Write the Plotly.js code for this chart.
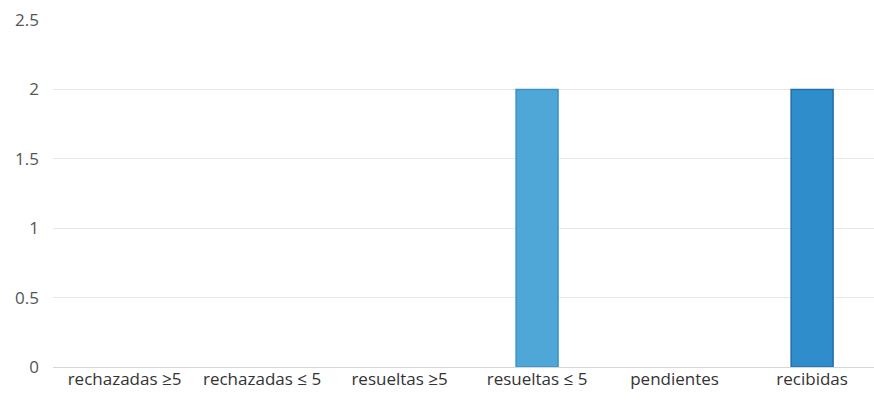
<!DOCTYPE html>
<html>
<head>
<meta charset="utf-8">
<script src="https://cdn.plot.ly/plotly-3.0.1.min.js"></script>
<style>html,body{margin:0;padding:0;background:#fff;}#chart{width:874px;height:414px;}</style>
</head>
<body>
<div id="chart"></div>
<script>
const categories = ["rechazadas ≥5", "rechazadas ≤ 5", "resueltas ≥5", "resueltas ≤ 5", "pendientes", "recibidas"];
const values = [0, 0, 0, 2, 0, 2];
const yTicks = [0, 0.5, 1, 1.5, 2, 2.5];

const barColors = ["#3a95cc", "#3a95cc", "#3a95cc", "#4ea7d6", "#3a95cc", "#2f8dcb"];
const barEdge = ["#3a95cc", "#3a95cc", "#3a95cc", "#3b93c4", "#3a95cc", "#1f6faa"];
const edgeWidth = values.map(v => v > 0 ? 1.5 : 0);

Plotly.newPlot("chart", [{
  type: "bar",
  x: categories,
  y: values,
  marker: {color: barColors, line: {color: barEdge, width: edgeWidth}},
  hoverinfo: "none"
}], {
  width: 874, height: 414,
  margin: {l: 53, r: 0, t: 20, b: 47},
  paper_bgcolor: "#ffffff", plot_bgcolor: "#ffffff",
  bargap: 0.695,
  showlegend: false,
  font: {family: "Open Sans, Liberation Sans, sans-serif", size: 17, color: "#404040"},
  xaxis: {
    type: "category",
    range: [-0.52, 5.45],
    showgrid: false, showline: false, zeroline: false,
    ticks: "", tickfont: {size: 17, color: "#333333"}
  },
  yaxis: {
    range: [0, 2.5],
    tickvals: yTicks,
    ticktext: yTicks.map(String),
    showgrid: true, gridcolor: "#e6e6e6", gridwidth: 1,
    zeroline: true, zerolinecolor: "#d6d6d6", zerolinewidth: 1,
    showline: false, ticks: "",
    ticklabelstandoff: 13,
    tickfont: {size: 17, color: "#555555"}
  }
}, {displayModeBar: false, staticPlot: true});
</script>
</body>
</html>
